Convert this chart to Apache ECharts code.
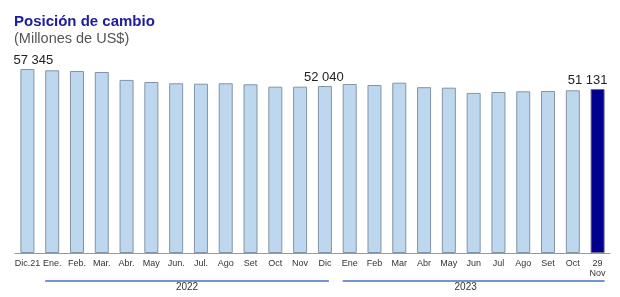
<!DOCTYPE html>
<html>
<head>
<meta charset="utf-8">
<script src="https://cdn.jsdelivr.net/npm/echarts@6/dist/echarts.min.js"></script>
<style>html,body{margin:0;padding:0;background:#fff}#c{width:620px;height:297px}</style>
</head>
<body>
<div id="c"></div>
<script>
var categories = ['Dic.21','Ene.','Feb.','Mar.','Abr.','May','Jun.','Jul.','Ago','Set','Oct','Nov','Dic',
  'Ene','Feb','Mar','Abr','May','Jun','Jul','Ago','Set','Oct','29\nNov'];
var values = [57345,56950,56730,56420,53950,53300,52900,52770,52900,52580,51840,51840,52040,
  52680,52370,53080,51680,51530,49900,50180,50400,50480,50710,51131];
var labeledIndex = [0, 12, 23];
var years = ['2022','2023'];
var yearSpans = [[1,12],[13,23]];

function fmt(v){ return String(v).replace(/\B(?=(\d{3})+(?!\d))/g,' '); }

var chart = echarts.init(document.getElementById('c'), null, {renderer:'canvas'});
var font = 'Liberation Sans, Arial, sans-serif';
var data = values.map(function(v,i){
  var item = {value:v};
  if (i === values.length-1) item.itemStyle = {color:'#00008f', borderColor:'#6b6b8a'};
  if (labeledIndex.indexOf(i) >= 0) {
    var off = i === 0 ? [6,0] : (i === values.length-1 ? [-10,0] : [-1,0]);
    item.label = {show:true, position:'top', distance:2, offset:off, formatter:function(p){return fmt(p.value);},
      fontSize:13, color:'#222', fontFamily:font};
  }
  return item;
});
chart.setOption({
  animation:false,
  title:[
    {text:'Posición de cambio', left:14, top:14, padding:0, textStyle:{fontSize:15, fontWeight:'bold', color:'#1c1c9c', fontFamily:font}},
    {text:'(Millones de US$)', left:14, top:31, padding:0, textStyle:{fontSize:14.5, fontWeight:'normal', color:'#555', fontFamily:font}}
  ],
  grid:{left:15, right:10, top:60.5, bottom:44},
  xAxis:{type:'category', data:categories,
    axisLine:{lineStyle:{color:'#999', width:1}}, axisTick:{show:false},
    axisLabel:{interval:0, fontSize:9, color:'#333', margin:6, lineHeight:10, fontFamily:font}},
  yAxis:{type:'value', min:0, max:60000, show:false, splitLine:{show:false}},
  series:[{type:'bar', data:data, barWidth:14,
    itemStyle:{color:'#bdd7ee', borderColor:'#8494a6', borderWidth:1}}]
});

var g = [];
yearSpans.forEach(function(s,k){
  var x1 = chart.convertToPixel({xAxisIndex:0}, s[0]) - 7;
  var x2 = chart.convertToPixel({xAxisIndex:0}, s[1]) + (k===0 ? 4 : 7);
  var y = 281;
  g.push({type:'line', shape:{x1:x1,y1:y,x2:x2,y2:y}, style:{stroke:'#4472c4', lineWidth:1.5}});
  var cx = k===0 ? (x1+x2)/2 : (x1+x2)/2 - 8;
  g.push({type:'text', x:cx, y:287, style:{text:years[k], fill:'#333', fontSize:10, fontFamily:font, align:'center', verticalAlign:'middle'}});
});
chart.setOption({graphic:g});
</script>
</body>
</html>
